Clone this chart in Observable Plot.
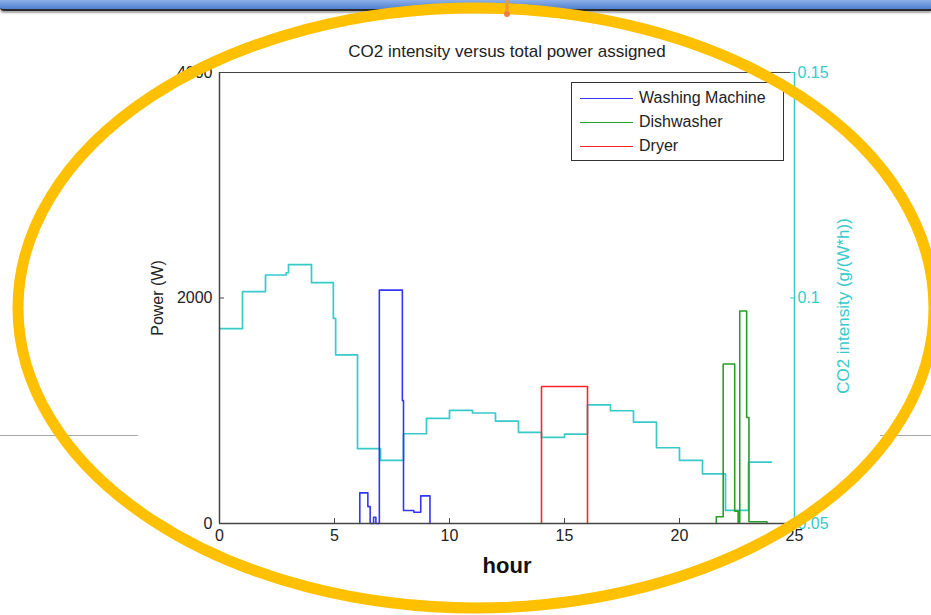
<!DOCTYPE html>
<html>
<head>
<meta charset="utf-8">
<script src="https://cdn.jsdelivr.net/npm/d3@7"></script>
<script src="https://cdn.jsdelivr.net/npm/@observablehq/plot@0.6"></script>
<style>
  html, body { margin: 0; padding: 0; background: #fff; }
  #wrap { position: relative; width: 931px; height: 615px; overflow: hidden; font-family: "Liberation Sans", Arial, sans-serif; }
  #topbar { position: absolute; left: 0; top: 0; width: 931px; height: 9px;
            background: linear-gradient(#8db0e8, #4f80d0); border-bottom: 2px solid #2a2a2a;
            box-shadow: 0 2px 2px rgba(0,0,0,0.35); border-bottom-left-radius: 4px; }
  #chart { position: absolute; left: 0; top: 0; }
  #legend { position: absolute; left: 571px; top: 82px; width: 213px; height: 79px;
            border: 1px solid #333; background: #fff; font-size: 16px; color: #222; box-sizing: border-box; }
  .lrow { position: absolute; left: 0; height: 20px; display: flex; align-items: center; }
  .lline { width: 53px; height: 0; margin-left: 8px; margin-right: 6px; border-top: 1.5px solid; }
  #deco { position: absolute; left: 0; top: 0; pointer-events: none; }
  .hline { position: absolute; height: 1px; background: #a8a8a8; top: 435px; }
</style>
</head>
<body>
<div id="wrap">
  <div class="hline" style="left:0;width:138px"></div>
  <div class="hline" style="left:880px;width:51px"></div>
  <div id="chart"></div>
  <div id="legend"></div>
  <div id="topbar"></div>
  <svg id="deco" width="931" height="615">
    <ellipse cx="476" cy="308" rx="458" ry="300" fill="none" stroke="#ffc000" stroke-width="11"/>
    <line x1="507" y1="0" x2="507" y2="14" stroke="#f29a3a" stroke-width="3"/>
    <circle cx="507" cy="14" r="3" fill="#f0803a"/>
  </svg>
</div>
<script>
// ---------- data ----------
const titleText = "CO2 intensity versus total power assigned";
const xLabel = "hour";
const yLabelLeft = "Power (W)";
const yLabelRight = "CO2 intensity (g/(W*h))";

const xTicks = [0, 5, 10, 15, 20, 25];
const powerTicks = [0, 2000, 4000];
const co2Ticks = [0.05, 0.1, 0.15];

const co2Hours  = [0, 1, 2, 2.9, 3, 4, 4.95, 5.05, 6, 7, 8, 9, 10, 11, 12, 13, 14, 15, 16, 17, 18, 19, 20, 21, 22, 23, 24];
const co2Values = [0.0932, 0.1014, 0.1051, 0.1056, 0.1074, 0.1034, 0.0955, 0.0874, 0.0666, 0.0640, 0.0699, 0.0733, 0.0751, 0.0745, 0.0727, 0.0702, 0.0691, 0.0698, 0.0763, 0.0750, 0.0725, 0.0668, 0.0640, 0.0610, 0.0529, 0.0636, 0.0636];

const washHours = [6.1, 6.1, 6.45, 6.55, 6.7, 6.8, 6.95, 7.95, 8.0, 8.45, 8.75, 9.15];
const washPower = [0, 272, 150, 0, 55, 0, 2070, 1090, 115, 100, 245, 0];

const dishHours = [21.6, 21.6, 21.9, 22.4, 22.55, 22.62, 22.92, 23.02, 23.8];
const dishPower = [0, 60, 1415, 110, 10, 1885, 940, 15, 0];

const dryerHours = [14, 14, 16];
const dryerPower = [0, 1215, 0];

const seriesNames  = ["Washing Machine", "Dishwasher", "Dryer"];
const seriesColors = ["#3535f5", "#27a027", "#ff2525"];
const co2Color = "#38c9c9";
const axisColor = "#444";

// ---------- build ----------
const powerMax = 4000;
const co2Min = 0.05, co2Max = 0.15;
const co2ToPower = v => (v - co2Min) / (co2Max - co2Min) * powerMax;

const co2Rows = co2Hours.map((h, i) => ({h, p: co2ToPower(co2Values[i])}));
const toRows = (hs, ps, name) => hs.map((h, i) => ({h, p: ps[i], name}));
const applianceRows = [
  ...toRows(washHours, washPower, seriesNames[0]),
  ...toRows(dishHours, dishPower, seriesNames[1]),
  ...toRows(dryerHours, dryerPower, seriesNames[2])
];

const chart = Plot.plot({
  width: 931,
  height: 615,
  marginLeft: 219,
  marginRight: 137,
  marginTop: 72,
  marginBottom: 92,
  style: {fontFamily: "'Liberation Sans', Arial, sans-serif", fontSize: "16px", color: "#222", background: "transparent", overflow: "visible"},
  x: {domain: [0, 25]},
  y: {domain: [0, powerMax]},
  color: {domain: seriesNames, range: seriesColors},
  marks: [
    Plot.line(co2Rows, {x: "h", y: "p", curve: "step-after", stroke: co2Color, strokeWidth: 1.7}),
    Plot.line(applianceRows, {x: "h", y: "p", z: "name", stroke: "name", curve: "step-after", strokeWidth: 1.6}),
    Plot.ruleY([powerMax], {stroke: axisColor, strokeWidth: 1.2}),
    Plot.ruleY([0], {stroke: axisColor, strokeWidth: 1.5}),
    Plot.ruleX([0], {stroke: axisColor, strokeWidth: 1.5}),
    Plot.ruleX([25], {stroke: co2Color, strokeWidth: 1.5}),
    Plot.axisX({ticks: xTicks, tickSize: -5, tickPadding: 11, label: null, stroke: axisColor, fill: "#222"}),
    Plot.axisY({anchor: "left", ticks: powerTicks, tickSize: -5, tickPadding: 12, label: null, tickFormat: d => String(d), stroke: axisColor, fill: "#222"}),
    Plot.axisY({anchor: "right", ticks: co2Ticks.map(co2ToPower), tickSize: -5, tickPadding: 8, label: null,
                tickFormat: (d, i) => String(co2Ticks[i]), stroke: co2Color, fill: co2Color}),
    Plot.text([titleText], {frameAnchor: "top", dy: -21, textAnchor: "middle", lineAnchor: "middle", fontSize: 17, fill: "#222"}),
    Plot.text([xLabel], {frameAnchor: "bottom", dy: 42, textAnchor: "middle", lineAnchor: "middle", fontSize: 22, fontWeight: "bold", fill: "#111"}),
    Plot.text([yLabelLeft], {frameAnchor: "left", dx: -62, rotate: -90, textAnchor: "middle", lineAnchor: "middle", fontSize: 16, fill: "#222"}),
    Plot.text([yLabelRight], {frameAnchor: "right", dx: 49, dy: 8, rotate: -90, textAnchor: "middle", lineAnchor: "middle", fontSize: 17, fill: co2Color})
  ]
});
document.getElementById("chart").appendChild(chart);

// legend
const legend = document.getElementById("legend");
const rowTops = [5, 29, 53];
seriesNames.forEach((name, i) => {
  const row = document.createElement("div");
  row.className = "lrow";
  row.style.top = rowTops[i] + "px";
  const ln = document.createElement("div");
  ln.className = "lline";
  ln.style.borderTopColor = seriesColors[i];
  const tx = document.createElement("span");
  tx.textContent = name;
  row.appendChild(ln);
  row.appendChild(tx);
  legend.appendChild(row);
});
</script>
</body>
</html>
